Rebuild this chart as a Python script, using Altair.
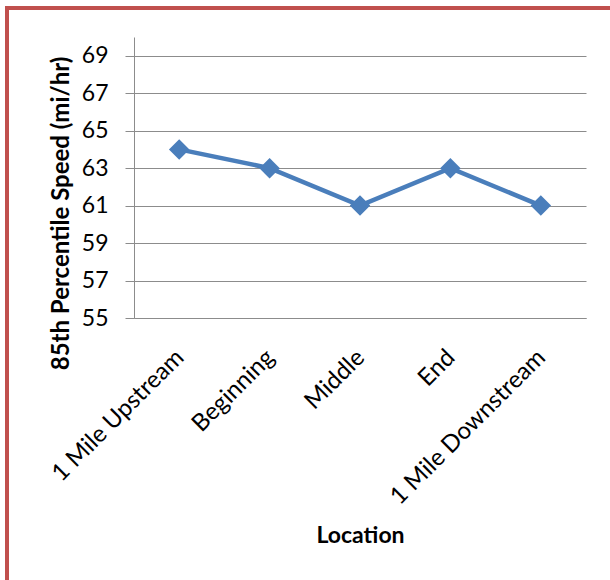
import altair as alt
import pandas as pd

locations = ["1 Mile Upstream", "Beginning", "Middle", "End", "1 Mile Downstream"]
speeds = [64, 63, 61, 63, 61]
y_ticks = [55, 57, 59, 61, 63, 65, 67, 69]

df = pd.DataFrame({"Location": locations, "Speed": speeds})

FONT = "Lato"
GRID = "#8c8c8c"

x_enc = alt.X("Location:N", sort=locations,
              scale=alt.Scale(paddingInner=0, paddingOuter=0),
              axis=alt.Axis(title="Location", labelAngle=-45, labelAlign="right",
                            labelBaseline="top", labelPadding=27, labelOffset=-8,
                            ticks=False,
                            domainColor=GRID, labelFontSize=24, labelFont=FONT,
                            labelColor="black", titleFont=FONT, titleFontSize=23,
                            titleFontWeight="bold", titleColor="black",
                            titleY=217, titleX=226, titleBaseline="middle",
                            labelLimit=400, grid=False))
y_enc = alt.Y("Speed:Q", scale=alt.Scale(domain=[55, 70], nice=False, zero=False),
              axis=alt.Axis(title="85th Percentile Speed (mi/hr)", values=y_ticks,
                            tickSize=9, tickColor=GRID, domainColor=GRID,
                            gridColor=GRID, labelPadding=17, labelFontSize=23,
                            labelFont=FONT, labelColor="black", titleFont=FONT,
                            titleFontSize=24, titleFontWeight="bold",
                            titleColor="black", titleX=-73, titleY=176,
                            titleBaseline="middle", titleAlign="center",
                            titleLimit=500))

line = alt.Chart(df).mark_line(color="#4A7EBB", strokeWidth=4.5).encode(x=x_enc, y=y_enc)
pts = alt.Chart(df).mark_point(shape="diamond", filled=True, size=420, opacity=1,
                               color="#4A7EBB").encode(x=alt.X("Location:N", sort=locations),
                                                       y="Speed:Q")

border_left = alt.Chart(df).mark_rule(color="#C0504D", strokeWidth=4, clip=False).encode(
    x=alt.value(-127), y=alt.value(-29), y2=alt.value(560))
border_top = alt.Chart(df).mark_rule(color="#C0504D", strokeWidth=4, clip=False).encode(
    x=alt.value(-129), x2=alt.value(500), y=alt.value(-29))

chart = alt.layer(line, pts, border_left, border_top).properties(
    width=452, height=281,
    autosize=alt.AutoSizeParams(type="none"),
    padding={"left": 134, "top": 37, "right": 24, "bottom": 262},
).configure_view(stroke=None)

chart.save("out.html", embed_options={"renderer": "svg", "actions": False})
